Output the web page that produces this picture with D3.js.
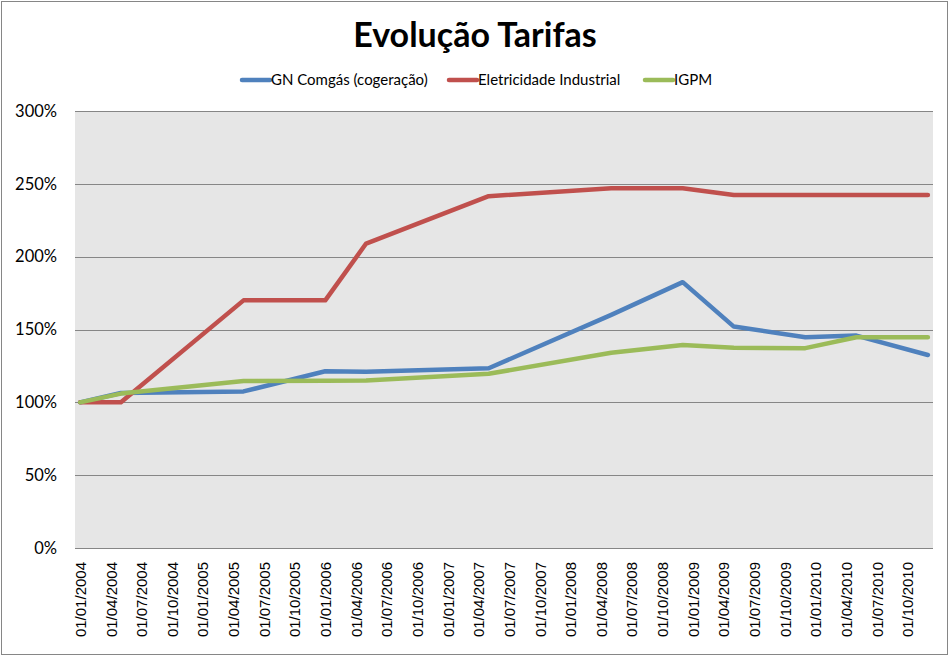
<!DOCTYPE html>
<html>
<head>
<meta charset="utf-8">
<script src="https://cdn.jsdelivr.net/npm/d3@7"></script>
<style>
  html, body { margin: 0; padding: 0; background: #fff; }
  svg { display: block; }
</style>
</head>
<body>
<svg id="chart" width="950" height="657"></svg>
<script>
// ---- data ----
const title = "Evolução Tarifas";
// dates of data points (dd/mm/yyyy)
const pointDates = ["01/01/2004","01/05/2004","01/05/2005","01/01/2006","01/05/2006","01/05/2007",
                    "01/05/2008","01/12/2008","01/05/2009","01/12/2009","01/05/2010","01/12/2010"];
const seriesNames = ["GN Comgás (cogeração)", "Eletricidade Industrial", "IGPM"];
const gnComgas    = [100, 106.4, 107.5, 121.3, 121.0, 123.4, 160.0, 182.5, 152.0, 144.7, 145.8, 132.5];
const eletricidade= [100, 100.0, 170.0, 170.0, 209.0, 241.5, 247.0, 247.0, 242.3, 242.3, 242.3, 242.3];
const igpm        = [100, 106.0, 114.7, 114.8, 115.0, 119.6, 134.0, 139.4, 137.5, 137.2, 144.7, 144.7];
const seriesColors = ["#4f81bd", "#c0504d", "#9bbb59"];
const yTicks = [0, 50, 100, 150, 200, 250, 300];
const xTickLabels = ["01/01/2004","01/04/2004","01/07/2004","01/10/2004","01/01/2005","01/04/2005","01/07/2005",
  "01/10/2005","01/01/2006","01/04/2006","01/07/2006","01/10/2006","01/01/2007","01/04/2007","01/07/2007",
  "01/10/2007","01/01/2008","01/04/2008","01/07/2008","01/10/2008","01/01/2009","01/04/2009","01/07/2009",
  "01/10/2009","01/01/2010","01/04/2010","01/07/2010","01/10/2010"];

// ---- helpers ----
function monthIndex(s) {
  const [d, m, y] = s.split("/").map(Number);
  return (y - 2004) * 12 + (m - 1);
}

const svg = d3.select("#chart");
const W = 950, H = 657;
const plot = { left: 75, right: 933, top: 111, bottom: 548 };

// outer border
svg.append("rect").attr("x", 1.5).attr("y", 1.5).attr("width", W - 4).attr("height", H - 4)
  .attr("fill", "#fff").attr("stroke", "#868686").attr("stroke-width", 1);

const x = d3.scaleLinear().domain([0, 84]).range([plot.left, plot.right]);
const y = d3.scaleLinear().domain([0, 300]).range([plot.bottom, plot.top]);

// plot background
svg.append("rect").attr("x", plot.left).attr("y", plot.top)
  .attr("width", plot.right - plot.left).attr("height", plot.bottom - plot.top)
  .attr("fill", "#e6e6e6");

// gridlines + y labels
const yAxis = d3.axisLeft(y).tickValues(yTicks).tickSize(-(plot.right - plot.left))
  .tickFormat(d => d + "%").tickPadding(18);
const gy = svg.append("g").attr("transform", `translate(${plot.left},0)`).call(yAxis);
gy.select(".domain").remove();
gy.selectAll(".tick line").attr("stroke", "#868686").attr("stroke-width", 1).attr("shape-rendering", "crispEdges");
gy.selectAll(".tick text").attr("font-family", "Lato, 'Open Sans', sans-serif")
  .attr("font-size", 16.5).attr("fill", "#000");

// x labels
const xAxis = d3.axisBottom(x)
  .tickValues(xTickLabels.map(s => monthIndex(s) + 0.5))
  .tickFormat((d, i) => xTickLabels[i]).tickSize(0);
const gx = svg.append("g").attr("transform", `translate(0,${plot.bottom})`).call(xAxis);
gx.select(".domain").remove();
gx.selectAll(".tick text")
  .attr("font-family", "'Liberation Sans', Arial, sans-serif")
  .attr("font-size", 15).attr("fill", "#000")
  .attr("text-anchor", "end")
  .attr("transform", "translate(0,14) rotate(-90)")
  .attr("x", 0).attr("y", 0).attr("dy", "0.35em");

// lines
const allSeries = [gnComgas, eletricidade, igpm];
const line = d3.line()
  .x((d, i) => x(monthIndex(pointDates[i]) + 0.5))
  .y(d => y(d));
allSeries.forEach((vals, k) => {
  svg.append("path").datum(vals)
    .attr("d", line)
    .attr("fill", "none")
    .attr("stroke", seriesColors[k])
    .attr("stroke-width", 4.5)
    .attr("stroke-linejoin", "round")
    .attr("stroke-linecap", "round");
});

// title
svg.append("text").attr("x", 475).attr("y", 47).attr("text-anchor", "middle")
  .attr("font-family", "Lato, 'Open Sans', sans-serif").attr("font-weight", "bold")
  .attr("font-size", 34).attr("fill", "#000").text(title);

// legend
const legendX = [242, 449, 645];
seriesNames.forEach((name, k) => {
  const g = svg.append("g").attr("transform", `translate(${legendX[k]},80)`);
  g.append("line").attr("x1", 0).attr("x2", 28).attr("y1", 0).attr("y2", 0)
    .attr("stroke", seriesColors[k]).attr("stroke-width", 4.5).attr("stroke-linecap", "round");
  g.append("text").attr("x", 29).attr("y", 0).attr("dy", "0.35em")
    .attr("font-family", "Lato, 'Open Sans', sans-serif").attr("font-size", 15)
    .attr("fill", "#000").text(name);
});
</script>
</body>
</html>
